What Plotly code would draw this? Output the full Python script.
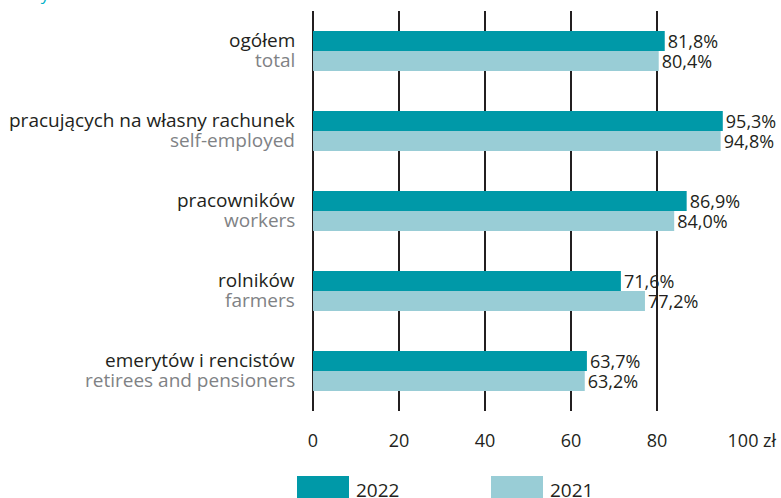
import plotly.graph_objects as go

categories_pl = ["ogółem", "pracujących na własny rachunek", "pracowników", "rolników", "emerytów i rencistów"]
categories_en = ["total", "self-employed", "workers", "farmers", "retirees and pensioners"]
values_2022 = [81.8, 95.3, 86.9, 71.6, 63.7]
values_2021 = [80.4, 94.8, 84.0, 77.2, 63.2]
x_ticks = [0, 20, 40, 60, 80, 100]
x_ticklabels = ["0", "20", "40", "60", "80", "100"]

FONT = "Open Sans"
DARK = "#231f20"
GRAY = "#808285"
C22 = "#0099a8"
C21 = "#99cdd6"

def fmt(v):
    return f"{v:.1f}%".replace(".", ",")

fig = go.Figure()
fig.add_trace(go.Bar(
    y=categories_pl, x=values_2022, orientation="h", name="2022",
    marker=dict(color=C22, line=dict(width=0)),
    text=[fmt(v) for v in values_2022], textposition="outside",
    textfont=dict(family=FONT, size=18, color=DARK), cliponaxis=False,
))
fig.add_trace(go.Bar(
    y=categories_pl, x=values_2021, orientation="h", name="2021",
    marker=dict(color=C21, line=dict(width=0)),
    text=[fmt(v) for v in values_2021], textposition="outside",
    textfont=dict(family=FONT, size=18, color=DARK), cliponaxis=False,
))

fig.update_layout(
    template="none",
    width=781, height=498,
    margin=dict(l=313, r=38, t=11, b=87, pad=0),
    paper_bgcolor="white", plot_bgcolor="white",
    barmode="group", bargap=0.5, bargroupgap=0,
    showlegend=False,
    uniformtext=dict(mode="show", minsize=18),
    font=dict(family=FONT, size=18, color=DARK),
    xaxis=dict(range=[0, 100], tickvals=x_ticks, ticktext=x_ticklabels, automargin=False,
               showgrid=True, gridcolor=DARK, gridwidth=2,
               zeroline=True, zerolinecolor=DARK, zerolinewidth=2,
               showline=False, ticks="", ticklabelstandoff=17,
               tickfont=dict(family=FONT, size=18, color=DARK)),
    yaxis=dict(autorange="reversed", showgrid=False, zeroline=False, showline=False,
               ticks="", showticklabels=False, automargin=False),
)

# two-line category labels
for pl, en in zip(categories_pl, categories_en):
    fig.add_annotation(x=(297 - 313) / 430, xref="paper", y=pl, yref="y", text=pl,
                       showarrow=False, xanchor="right", yanchor="middle", yshift=11,
                       font=dict(family=FONT, size=19, color=DARK))
    fig.add_annotation(x=(297 - 313) / 430, xref="paper", y=pl, yref="y", text=en,
                       showarrow=False, xanchor="right", yanchor="middle", yshift=-9,
                       font=dict(family=FONT, size=19, color=GRAY))

# "zł" unit after the last tick
fig.add_annotation(x=100, xref="x", y=(411 - 440) / 400, yref="paper", text="zł", showarrow=False,
                   xanchor="left", yanchor="middle", xshift=18,
                   font=dict(family=FONT, size=18, color=DARK))

# custom legend
leg = [("2022", C22, (297 - 313) / 430), ("2021", C21, (491 - 313) / 430)]
for name, col, x0 in leg:
    fig.add_shape(type="rect", xref="paper", yref="paper", x0=x0, x1=x0 + 52 / 430,
                  y0=(411 - 498) / 400, y1=(411 - 476) / 400, fillcolor=col, line=dict(width=0))
    fig.add_annotation(x=x0 + 57 / 430, xref="paper", y=(411 - 490) / 400, yref="paper", text=name,
                       showarrow=False, xanchor="left", yanchor="middle",
                       font=dict(family=FONT, size=19, color=DARK))

# cropped unit caption at top-left
fig.add_annotation(x=(15 - 313) / 430, xref="paper", y=(411 - 7) / 400, yref="paper", text="w tys. zł",
                   showarrow=False, xanchor="left", yanchor="bottom",
                   font=dict(family=FONT, size=17, color="#00b0c8"))

fig.write_html("out.html", config={"displayModeBar": False},
               post_script="document.body.style.margin='0';document.body.style.overflow='hidden';")
